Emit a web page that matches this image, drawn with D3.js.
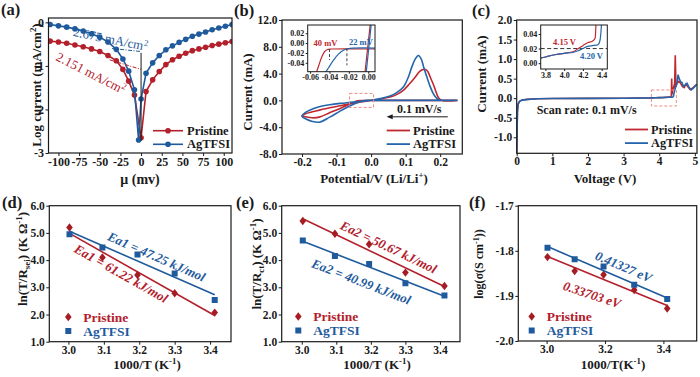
<!DOCTYPE html>
<html>
<head>
<meta charset="utf-8">
<script src="https://cdn.jsdelivr.net/npm/d3@7"></script>
<style>
  body { margin: 0; background: #fff; }
</style>
</head>
<body>
<div id="chart"></div>
<script>
// ---------- data ----------
const seriesNames = ["Pristine", "AgTFSI"];

// (a) Tafel plot: overpotential (mV) vs log current
const aPristineX = [-110,-100,-90,-80,-70,-60,-50,-40,-30,-22,-15,-8,0,6,14,22,30,38,46,54,62,70,78,86,94,102,110];
const aPristineY = [-0.43,-0.45,-0.48,-0.52,-0.56,-0.61,-0.67,-0.76,-0.88,-1.08,-1.35,-1.67,-2.65,-1.59,-1.32,-1.13,-0.97,-0.86,-0.78,-0.71,-0.65,-0.61,-0.57,-0.53,-0.50,-0.47,-0.44];
const aAgX = [-110,-100,-90,-80,-70,-60,-50,-40,-30,-22,-15,-8,-3,0,6,14,22,30,38,46,54,62,70,78,86,94,102,110];
const aAgY = [-0.05,-0.08,-0.11,-0.15,-0.20,-0.26,-0.34,-0.45,-0.62,-0.84,-1.12,-1.55,-2.70,-1.76,-1.17,-0.93,-0.76,-0.63,-0.54,-0.46,-0.39,-0.32,-0.27,-0.22,-0.17,-0.13,-0.09,-0.05];
const aTangentAg = [[-35, -0.60], [0, -0.67]];
const aTangentPristine = [[-38, -0.86], [0, -1.08]];
const aZeroLine = [[0, -0.70], [0, -2.72]];
const aTicksX = [-100,-75,-50,-25,0,25,50,75,100];
const aTicksY = [0,-1,-2,-3];

// (b) cyclic voltammetry
const bPristineX = [0.25,0.2,0.1,0.05,0.0,-0.02,-0.04,-0.06,-0.09,-0.12,-0.15,-0.17,-0.19,-0.2,-0.19,-0.17,-0.15,-0.12,-0.09,-0.06,-0.03,0,0.03,0.055,0.075,0.094,0.11,0.128,0.14,0.15,0.157,0.164,0.171,0.18,0.186,0.195,0.205,0.25];
const bPristineY = [0,0,0,0,0,-0.01,-0.05,-0.5,-1.2,-1.85,-2.5,-2.6,-2.45,-2.3,-2.0,-1.7,-1.45,-1.1,-0.8,-0.5,-0.25,0,0.25,0.5,0.9,1.55,2.4,3.5,4.3,4.6,4.6,4.3,3.5,2.4,1.55,0.4,0,0];
const bAgX = [0.25,0.2,0.1,0.05,0.0,-0.02,-0.04,-0.06,-0.09,-0.12,-0.15,-0.17,-0.19,-0.2,-0.19,-0.17,-0.15,-0.12,-0.09,-0.06,-0.03,0,0.03,0.055,0.075,0.094,0.108,0.118,0.128,0.137,0.145,0.152,0.162,0.171,0.18,0.186,0.193,0.2,0.25];
const bAgY = [0,0,0,0,0,-0.01,-0.3,-0.8,-1.6,-2.5,-3.25,-3.15,-2.75,-2.4,-1.8,-1.3,-0.95,-0.65,-0.45,-0.3,-0.15,0.02,0.3,0.66,1.2,2.05,3.5,5.0,6.2,6.7,6.2,5.0,3.4,2.05,1.0,0.55,0.2,0.05,0];
const bTicksX = [-0.2,-0.1,0,0.1,0.2];
const bTicksY = [-8,-4,0,4,8,12];
const bArrow = [0.222, 0.045];
const bArrowLevel = -2.45;
// (b) inset: nucleation region
const biPristineX = [0.007,-0.038,-0.042,-0.045,-0.048,-0.051,-0.054];
const biPristineY = [-0.012,-0.012,-0.013,-0.017,-0.028,-0.045,-0.062];
const biAgX = [0.007,-0.016,-0.021,-0.026,-0.031,-0.036,-0.041,-0.045];
const biAgY = [-0.010,-0.0102,-0.0115,-0.015,-0.023,-0.035,-0.05,-0.062];
const biPristineUp = [[-0.0035,-0.062],[0.0022,0.04]];
const biAgUp = [[-0.0022,-0.062],[0.0032,0.04]];
const biOnset = [[-0.040,-0.012,-0.034,"40 mV"],[-0.022,-0.0105,-0.045,"22 mV"]];
const biTicksX = [-0.06,-0.04,-0.02,0];
const biTicksY = [-0.04,-0.02,0,0.02];

// (c) linear sweep voltammetry
const cPristineX = [0,0.01,0.02,0.04,0.08,0.15,0.3,0.6,1.0,2.0,3.0,3.75,3.8,3.9,4.0,4.1,4.15,4.2,4.25,4.3,4.33,4.34,4.35,4.36,4.38,4.41,4.43,4.45,4.47,4.5,4.55,4.6,4.65,4.7,4.75,4.8,4.87,4.95,5.05];
const cPristineY = [-1.45,-0.9,-0.35,-0.15,-0.08,-0.05,-0.03,-0.015,-0.01,-0.004,0.0,0.007,0.0085,0.0115,0.0135,0.016,0.02,0.024,0.028,0.03,0.034,0.06,0.5,0.1,0.2,0.3,0.25,1.1,0.3,0.38,0.43,0.38,0.3,0.27,0.36,0.3,0.22,0.27,0.35];
const cAgX = [0,0.01,0.02,0.04,0.08,0.15,0.3,0.6,1.0,2.0,3.0,3.75,3.8,3.9,4.0,4.1,4.15,4.2,4.25,4.3,4.36,4.38,4.4,4.42,4.45,4.5,4.53,4.56,4.6,4.64,4.68,4.73,4.78,4.84,4.9,4.97,5.05];
const cAgY = [-1.45,-0.9,-0.35,-0.15,-0.08,-0.05,-0.03,-0.015,-0.01,-0.004,0.0,0.007,0.0085,0.0115,0.0135,0.015,0.017,0.02,0.023,0.024,0.025,0.03,0.06,0.15,0.25,0.4,0.6,0.5,0.42,0.4,0.3,0.34,0.38,0.27,0.21,0.27,0.35];
const cTicksX = [0,1,2,3,4,5];
const cTicksY = [-1,-0.5,0,0.5,1,1.5,2];
const ciTicksX = [3.8,4.0,4.2,4.4];
const ciTicksY = [0,0.02,0.04];
const ciOnsetLevel = 0.02;

// (d)-(f) Arrhenius plots, x = 1000/T
const invT = [3.003,3.096,3.195,3.300,3.413];
const dPristine = [5.20,4.10,3.45,2.78,2.07];
const dAg = [4.95,4.46,4.21,3.51,2.53];
const ePristine = [5.44,4.97,4.58,3.54,3.05];
const eAg = [4.72,4.15,3.86,3.15,2.70];
const fPristine = [-1.814,-1.845,-1.853,-1.887,-1.928];
const fAg = [-1.793,-1.819,-1.835,-1.875,-1.907];
const deTicksX = [3.0,3.1,3.2,3.3,3.4];
const deTicksY = [1,2,3,4,5,6];
const fTicksX = [3.0,3.2,3.4];
const fTicksY = [-2.0,-1.9,-1.8,-1.7];

// ---------- drawing ----------
const FONT = '"Liberation Serif","Times New Roman",serif';
const RED = "#b3202c", BLUE = "#1f5b9c";
const RED2 = "#c0282f", BLUE2 = "#2466ad";
const INK = "#1a1a1a";

const svg = d3.select("#chart").append("svg")
    .attr("width", 700).attr("height", 377)
    .style("font-family", FONT);

const fmt1 = d => d3.format(".1f")(d).replace("\u2212", "-");
const fmt2 = d => d3.format(".2f")(d).replace("\u2212", "-");
let clipN = 0;

function panel(o) {
    const fs = o.fs || 11.5, ts = o.ts || 3;
    const g = svg.append("g");
    const x = d3.scaleLinear().domain(o.xd).range([o.l, o.r]);
    const y = d3.scaleLinear().domain(o.yd).range([o.b, o.t]);
    if (o.bg) g.append("rect").attr("x", o.l).attr("y", o.t)
        .attr("width", o.r - o.l).attr("height", o.b - o.t).attr("fill", "#fff");
    const ax = g.append("g").attr("transform", `translate(0,${o.b})`)
        .call(d3.axisBottom(x).tickValues(o.xt).tickFormat(o.xf).tickSize(ts).tickPadding(1));
    const ay = g.append("g").attr("transform", `translate(${o.l},0)`)
        .call(d3.axisLeft(y).tickValues(o.yt).tickFormat(o.yf).tickSize(ts).tickPadding(1.5));
    [ax, ay].forEach(a => {
        a.select(".domain").remove();
        a.selectAll("line").attr("stroke", INK).attr("stroke-width", 1);
        a.selectAll("text").attr("font-size", fs).attr("fill", INK)
            .attr("font-family", FONT).attr("font-weight", "bold");
    });
    const id = "clip" + (clipN++);
    svg.append("clipPath").attr("id", id).append("rect")
        .attr("x", o.l).attr("y", o.t).attr("width", o.r - o.l).attr("height", o.b - o.t);
    const plot = g.append("g").attr("clip-path", `url(#${id})`);
    const over = g.append("g");
    g.append("rect").attr("x", o.l).attr("y", o.t)
        .attr("width", o.r - o.l).attr("height", o.b - o.t)
        .attr("fill", "none").attr("stroke", INK).attr("stroke-width", o.sw || 1.2);
    return {g, x, y, plot, over};
}

// text with sub/superscripts: parts = [[str, "sup"|"sub"|undefined], ...]
function rich(parent, parts, fs) {
    const t = parent.append("text").attr("font-size", fs).attr("font-weight", "bold").attr("fill", INK);
    let shift = 0;
    parts.forEach(([s, k]) => {
        const target = k === "sup" ? -fs * 0.36 : k === "sub" ? fs * 0.25 : 0;
        t.append("tspan").attr("dy", target - shift)
            .attr("font-size", k ? fs * 0.68 : fs).text(s);
        shift = target;
    });
    return t;
}

function yTitle(p, cx, cy, parts, fs) {
    rich(p.g, parts, fs || 13).attr("text-anchor", "middle")
        .attr("transform", `translate(${cx},${cy}) rotate(-90)`);
}
function xTitle(p, cx, cy, parts, fs) {
    rich(p.g, parts, fs || 13).attr("text-anchor", "middle").attr("x", cx).attr("y", cy);
}
function panelLabel(txt, x, y) {
    svg.append("text").attr("x", x).attr("y", y).attr("font-size", 16.5)
        .attr("font-weight", "bold").attr("fill", INK).text(txt);
}
function lineLegend(p, x1, x2, y0, colors, fs) {
    seriesNames.forEach((n, i) => {
        const yy = y0 + i * 13.6;
        p.over.append("line").attr("x1", x1).attr("x2", x2).attr("y1", yy).attr("y2", yy)
            .attr("stroke", colors[i]).attr("stroke-width", 1.8);
        p.over.append("text").attr("x", x2 + 3).attr("y", yy + 4.3).attr("font-size", fs)
            .attr("font-weight", "bold").attr("fill", INK).text(n);
    });
}

// ===== (a) =====
const pa = panel({l: 48.5, r: 232, t: 18, b: 153, xd: [-112, 110], yd: [-3, 0.1],
    xt: aTicksX, yt: aTicksY, xf: d => String(d), yf: d => String(d), fs: 12});
const lineA = d3.line().x(d => pa.x(d[0])).y(d => pa.y(d[1]));
[[aPristineX, aPristineY, RED], [aAgX, aAgY, BLUE]].forEach(([xs, ys, c]) => {
    const pts = d3.zip(xs, ys);
    pa.plot.append("path").datum(pts).attr("d", lineA)
        .attr("fill", "none").attr("stroke", c).attr("stroke-width", 1.6);
    pa.plot.selectAll(null).data(pts).join("circle")
        .attr("cx", d => pa.x(d[0])).attr("cy", d => pa.y(d[1])).attr("r", 2.8).attr("fill", c);
});
[[aTangentAg, BLUE], [aTangentPristine, RED]].forEach(([pts, c]) => {
    pa.plot.append("path").datum(pts).attr("d", lineA).attr("fill", "none")
        .attr("stroke", c).attr("stroke-width", 1).attr("stroke-dasharray", "4,1.5,1,1.5");
});
pa.plot.append("path").datum(aZeroLine).attr("d", lineA)
    .attr("stroke", INK).attr("stroke-width", 1);
rich(pa.over, [["2.675 mA/cm"], ["2", "sup"]], 13).attr("font-weight", "normal").attr("fill", BLUE)
    .attr("transform", `translate(${pa.x(-83)},${pa.y(-0.31)}) rotate(11.5)`);
rich(pa.over, [["2.151 mA/cm"], ["2", "sup"]], 13).attr("font-weight", "normal").attr("fill", RED)
    .attr("transform", `translate(${pa.x(-104)},${pa.y(-0.86)}) rotate(27)`);
seriesNames.forEach((n, i) => {
    const yy = 130.7 + i * 13.6, c = i ? BLUE : RED;
    pa.over.append("line").attr("x1", 153).attr("x2", 183).attr("y1", yy).attr("y2", yy)
        .attr("stroke", c).attr("stroke-width", 1.6);
    pa.over.append("circle").attr("cx", 168).attr("cy", yy).attr("r", 2.8).attr("fill", c);
    pa.over.append("text").attr("x", 187).attr("y", yy + 4).attr("font-size", 12.5)
        .attr("font-weight", "bold").attr("fill", INK).text(n);
});
yTitle(pa, 41, 85, [["Log current (mA/cm"], ["2", "sup"], [")"]]);
xTitle(pa, 140, 184, [["\u03bc (mv)"]], 14);
panelLabel("(a)", 1, 15);

// ===== (b) =====
const pb = panel({l: 282, r: 462.3, t: 20, b: 154, xd: [-0.258, 0.264], yd: [-8, 12],
    xt: bTicksX, yt: bTicksY, xf: fmt1, yf: fmt1});
const lineB = d3.line().x(d => pb.x(d[0])).y(d => pb.y(d[1])).curve(d3.curveCatmullRom.alpha(0.5));
[[bPristineX, bPristineY, RED2], [bAgX, bAgY, BLUE2]].forEach(([xs, ys, c]) => {
    pb.plot.append("path").datum(d3.zip(xs, ys)).attr("d", lineB)
        .attr("fill", "none").attr("stroke", c).attr("stroke-width", 1.6);
});
// arrow + scan rate
pb.over.append("line").attr("x1", pb.x(bArrow[0])).attr("x2", pb.x(bArrow[1]) + 5)
    .attr("y1", pb.y(bArrowLevel)).attr("y2", pb.y(bArrowLevel)).attr("stroke", INK).attr("stroke-width", 1);
pb.over.append("path")
    .attr("d", `M${pb.x(bArrow[1])},${pb.y(bArrowLevel)} l6,-2.5 l0,5 Z`).attr("fill", INK);
pb.over.append("text").attr("x", (pb.x(bArrow[0]) + pb.x(bArrow[1])) / 2 + 2).attr("y", pb.y(bArrowLevel) - 3.5)
    .attr("text-anchor", "middle").attr("font-size", 12).attr("font-weight", "bold").attr("fill", INK).text("0.1 mV/s");
lineLegend(pb, 386.7, 410, 130.5, [RED2, BLUE2], 12.5);
yTitle(pb, 252, 92, [["Current (mA)"]]);
xTitle(pb, 374, 183, [["Potential/V (Li/Li"], ["+", "sup"], [")"]]);
panelLabel("(b)", 234, 16);

// inset (b)
const pbi = panel({l: 307.7, r: 375, t: 25, b: 71.7, xd: [-0.0625, 0.007], yd: [-0.058, 0.0367],
    xt: biTicksX, yt: biTicksY, xf: fmt2, yf: fmt2, fs: 8, ts: 2, bg: true, sw: 1});
// dashed box in main plot marks the inset window
pb.over.append("rect").attr("x", pb.x(pbi.x.domain()[0])).attr("y", pb.y(1.05))
    .attr("width", pb.x(pbi.x.domain()[1]) - pb.x(pbi.x.domain()[0]))
    .attr("height", pb.y(-1.05) - pb.y(1.05))
    .attr("fill", "none").attr("stroke", "#f08a80").attr("stroke-width", 1).attr("stroke-dasharray", "3,2");
const lineBi = d3.line().x(d => pbi.x(d[0])).y(d => pbi.y(d[1])).curve(d3.curveCatmullRom.alpha(0.5));
[[d3.zip(biPristineX, biPristineY), RED2], [biPristineUp, RED2],
 [d3.zip(biAgX, biAgY), BLUE2], [biAgUp, BLUE2]].forEach(([pts, c]) => {
    pbi.plot.append("path").datum(pts).attr("d", lineBi)
        .attr("fill", "none").attr("stroke", c).attr("stroke-width", 1.2);
});
biOnset.forEach(([v, top, bot, txt], i) => {
    pbi.plot.append("line").attr("x1", pbi.x(v)).attr("x2", pbi.x(v))
        .attr("y1", pbi.y(top)).attr("y2", pbi.y(bot))
        .attr("stroke", "#444").attr("stroke-width", 1).attr("stroke-dasharray", "3,2");
    pbi.over.append("text").attr("x", pbi.x(v) + (i ? 14 : -4)).attr("y", pbi.y(top) - 3.5)
        .attr("text-anchor", "middle").attr("font-size", 8.5).attr("font-weight", "bold")
        .attr("fill", i ? BLUE2 : RED2).text(txt);
});

// ===== (c) =====
const pc = panel({l: 516.7, r: 697, t: 20, b: 153.3, xd: [0, 5.06], yd: [-1.41, 2.0],
    xt: cTicksX, yt: cTicksY, xf: d => String(d), yf: fmt1});
const lineC = d3.line().x(d => pc.x(d[0])).y(d => pc.y(d[1]));
[[cPristineX, cPristineY, RED2], [cAgX, cAgY, BLUE2]].forEach(([xs, ys, c]) => {
    pc.plot.append("path").datum(d3.zip(xs, ys)).attr("d", lineC)
        .attr("fill", "none").attr("stroke", c).attr("stroke-width", 1.6);
});
pc.over.append("text").attr("x", pc.x(0.56)).attr("y", pc.y(-0.41)).attr("font-size", 12)
    .attr("font-weight", "bold").attr("fill", INK).text("Scan rate: 0.1 mV/s");
lineLegend(pc, 625, 648, 129.5, [RED2, BLUE2], 12.3);
yTitle(pc, 486, 74, [["Current (mA)"]]);
xTitle(pc, 605, 183, [["Voltage (V)"]]);
panelLabel("(c)", 472, 16);

// inset (c)
const pci = panel({l: 540.7, r: 607.3, t: 25, b: 69, xd: [3.75, 4.46], yd: [-0.008, 0.0523],
    xt: ciTicksX, yt: ciTicksY, xf: fmt1, yf: fmt2, fs: 8, ts: 2, bg: true, sw: 1});
pc.over.append("rect").attr("x", pc.x(3.78)).attr("y", pc.y(0.21))
    .attr("width", pc.x(4.48) - pc.x(3.78)).attr("height", pc.y(-0.2) - pc.y(0.21))
    .attr("fill", "none").attr("stroke", "#f08a80").attr("stroke-width", 1).attr("stroke-dasharray", "3,2");
const lineCi = d3.line().x(d => pci.x(d[0])).y(d => pci.y(d[1])).curve(d3.curveMonotoneX);
pci.plot.append("line").attr("x1", pci.x(3.75)).attr("x2", pci.x(4.46))
    .attr("y1", pci.y(ciOnsetLevel)).attr("y2", pci.y(ciOnsetLevel))
    .attr("stroke", "#333").attr("stroke-width", 1).attr("stroke-dasharray", "4,2.5");
[[cPristineX, cPristineY, RED2], [cAgX, cAgY, BLUE2]].forEach(([xs, ys, c]) => {
    pci.plot.append("path").datum(d3.zip(xs, ys).filter(d => d[0] >= 3.7)).attr("d", lineCi)
        .attr("fill", "none").attr("stroke", c).attr("stroke-width", 1.2);
});
pci.over.append("text").attr("x", 553).attr("y", 45).attr("font-size", 8.5)
    .attr("font-weight", "bold").attr("fill", RED2).text("4.15 V");
pci.over.append("text").attr("x", 580).attr("y", 59).attr("font-size", 8.5)
    .attr("font-weight", "bold").attr("fill", BLUE2).text("4.20 V");

// ===== (d)-(f) Arrhenius =====
function fit(xs, ys) {
    const mx = d3.mean(xs), my = d3.mean(ys);
    const m = d3.sum(xs, (x, i) => (x - mx) * (ys[i] - my)) / d3.sum(xs, x => (x - mx) ** 2);
    return x => my + m * (x - mx);
}
const diamond = "M0,-4.2L3.3,0L0,4.2L-3.3,0Z";
const square = "M-3,-3H3V3H-3Z";

function arrhenius(p, sets, legendX, legendY) {
    sets.forEach(s => {
        const f = fit(invT, s.ys);
        const x0 = invT[0], x1 = invT[invT.length - 1];
        p.plot.append("line").attr("x1", p.x(x0)).attr("x2", p.x(x1))
            .attr("y1", p.y(f(x0))).attr("y2", p.y(f(x1)))
            .attr("stroke", s.c).attr("stroke-width", 1.6);
        p.plot.selectAll(null).data(d3.zip(invT, s.ys)).join("path")
            .attr("d", s.shape).attr("fill", s.mc)
            .attr("transform", d => `translate(${p.x(d[0])},${p.y(d[1])})`);
        // label follows the fitted line
        const ang = Math.atan2(p.y(f(x1)) - p.y(f(x0)), p.x(x1) - p.x(x0)) * 180 / Math.PI;
        p.over.append("text").attr("font-size", 13).attr("font-weight", "bold")
            .attr("font-style", "italic").attr("fill", s.c).attr("dy", s.dy)
            .attr("transform", `translate(${p.x(s.lx)},${p.y(f(s.lx))}) rotate(${ang + (s.tilt || 0)})`)
            .text(s.label);
    });
    sets.forEach((s, i) => {
        const yy = legendY + i * 14;
        p.over.append("path").attr("d", s.shape).attr("fill", s.mc)
            .attr("transform", `translate(${legendX},${yy})`);
        p.over.append("text").attr("x", legendX + 15).attr("y", yy + 4.5).attr("font-size", 13.5)
            .attr("font-weight", "bold").attr("fill", s.c).text(seriesNames[i]);
    });
}

const pd = panel({l: 49.3, r: 231, t: 205.7, b: 341.7, xd: [2.946, 3.459], yd: [1, 6],
    xt: deTicksX, yt: deTicksY, xf: fmt1, yf: fmt1});
arrhenius(pd, [
    {ys: dPristine, c: RED, mc: "#a51d24", shape: diamond, label: "Ea1 = 61.22 kJ/mol", lx: 3.033, dy: 14},
    {ys: dAg, c: BLUE, mc: BLUE, shape: square, label: "Ea1 = 47.25 kJ/mol", lx: 3.1, dy: -7}
], 68.3, 317);
yTitle(pd, 27, 259, [["ln(T/R"], ["sei", "sub"], [") (K \u03a9"], ["-1", "sup"], [")"]]);
xTitle(pd, 147, 369, [["1000/T (K"], ["-1", "sup"], [")"]]);
panelLabel("(d)", 2, 208);

const pe = panel({l: 281.7, r: 460, t: 205.7, b: 341.7, xd: [2.942, 3.458], yd: [1, 6],
    xt: deTicksX, yt: deTicksY, xf: fmt1, yf: fmt1});
arrhenius(pe, [
    {ys: ePristine, c: RED, mc: "#a51d24", shape: diamond, label: "Ea2 = 50.67 kJ/mol", lx: 3.1, dy: -7},
    {ys: eAg, c: BLUE, mc: BLUE, shape: square, label: "Ea2 = 40.99 kJ/mol", lx: 3.048, dy: 21}
], 298.3, 316.5);
yTitle(pe, 261, 264, [["ln(T/R"], ["ct", "sub"], [") (K \u03a9"], ["-1", "sup"], [")"]]);
xTitle(pe, 377, 369, [["1000/T (K"], ["-1", "sup"], [")"]]);
panelLabel("(e)", 236, 208);

const pf = panel({l: 518.3, r: 696.7, t: 205.7, b: 341, xd: [2.903, 3.514], yd: [-2.0, -1.7],
    xt: fTicksX, yt: fTicksY, xf: fmt1, yf: fmt1});
arrhenius(pf, [
    {ys: fPristine, c: RED, mc: "#a51d24", shape: diamond, label: "0.33703 eV", lx: 3.08, dy: 25, tilt: -4},
    {ys: fAg, c: BLUE, mc: BLUE, shape: square, label: "0.41327 eV", lx: 3.154, dy: -7}
], 531.7, 316.5);
yTitle(pf, 483, 264, [["log(\u03c3(S cm"], ["-1", "sup"], ["))"]], 12);
xTitle(pf, 613, 369, [["1000/T(K"], ["-1", "sup"], [")"]]);
panelLabel("(f)", 469, 208);
</script>
</body>
</html>
